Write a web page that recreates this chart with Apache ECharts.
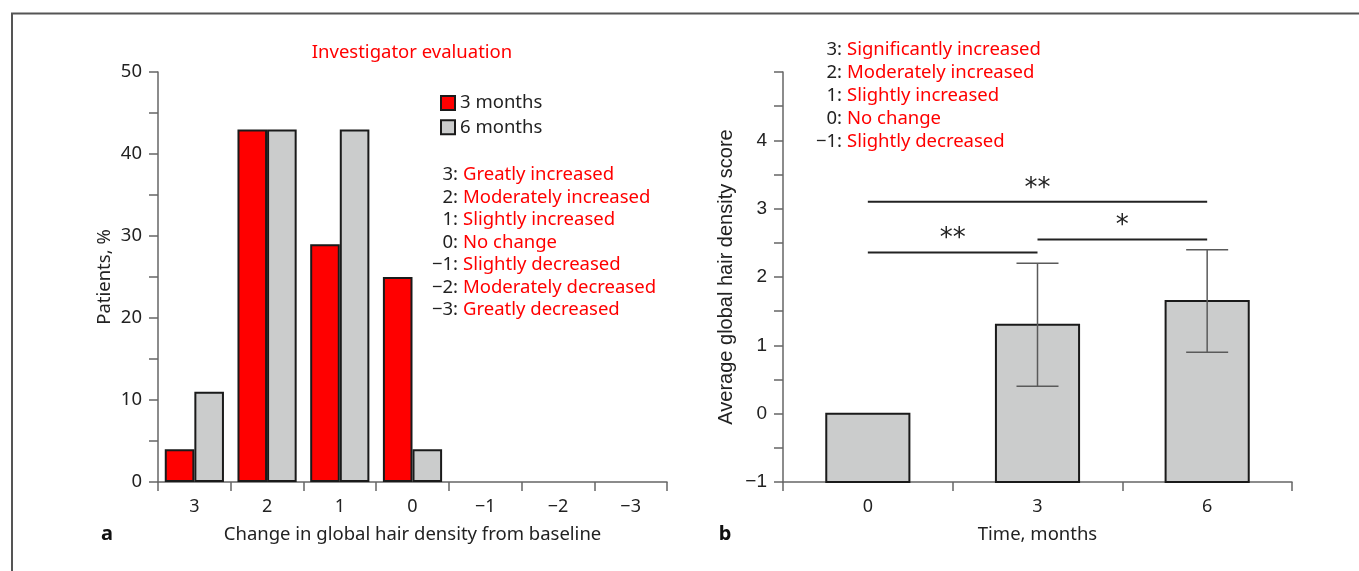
<!DOCTYPE html>
<html>
<head>
<meta charset="utf-8">
<script src="https://cdn.jsdelivr.net/npm/echarts@6/dist/echarts.min.js"></script>
<style>
  html, body { margin: 0; padding: 0; background: #fff; }
  #main { width: 1359px; height: 571px; }
</style>
</head>
<body>
<div id="main"></div>
<script>
// ---- panel a: investigator evaluation ----
var changeCats = ['3', '2', '1', '0', '\u22121', '\u22122', '\u22123'];
var patients3m = [4, 43, 29, 25, null, null, null];
var patients6m = [11, 43, 43, 4, null, null, null];
var scaleACodes = ['3:', '2:', '1:', '0:', '\u22121:', '\u22122:', '\u22123:'];
var scaleALabels = ['Greatly increased', 'Moderately increased', 'Slightly increased', 'No change',
  'Slightly decreased', 'Moderately decreased', 'Greatly decreased'];

// ---- panel b: average global hair density score ----
var months = ['0', '3', '6'];
var scoreMean = [0, 1.3, 1.65];
var scoreSd = [0, 0.9, 0.75];
var sigFrom = [0, 0, 1];
var sigTo = [2, 1, 2];
var sigLevel = [3.1, 2.36, 2.55];
var sigMark = ['**', '**', '*'];
var scaleBCodes = ['3:', '2:', '1:', '0:', '\u22121:'];
var scaleBLabels = ['Significantly increased', 'Moderately increased', 'Slightly increased', 'No change', 'Slightly decreased'];

var RED = '#ff0000', GREY = '#cbcccc', EDGE = '#1a1a1a', AXIS = '#666', TXT = '#222';
var FONT = '"Noto Sans", sans-serif';
var ARIAL = '"Liberation Sans", Arial, sans-serif';
var FS = 18.5;
var scoreMin = -1;

function minus(v) { return String(v).replace('-', '\u2212'); }

function axisBase() {
  return {
    axisLine: { show: true, onZero: false, lineStyle: { color: AXIS, width: 1.5 } },
    axisTick: { show: true, length: 9, lineStyle: { color: AXIS, width: 1.5 } },
    splitLine: { show: false }
  };
}

var graphics = [];
// outer frame
graphics.push({ type: 'rect', shape: { x: 12, y: 13.5, width: 1400, height: 600 },
  style: { fill: 'none', stroke: '#555', lineWidth: 2 }, silent: true });
graphics.push({ type: 'text', x: 412, y: 53, style: { text: 'Investigator evaluation', fill: RED,
  fontSize: FS, fontFamily: FONT, textAlign: 'center', textVerticalAlign: 'middle', align: 'center', verticalAlign: 'middle' } });
graphics.push({ type: 'text', x: 107, y: 534, style: { text: 'a', fill: '#111', fontSize: 20, fontWeight: 'bold',
  fontFamily: FONT, textAlign: 'center', textVerticalAlign: 'middle', align: 'center', verticalAlign: 'middle' } });
graphics.push({ type: 'text', x: 725, y: 534, style: { text: 'b', fill: '#111', fontSize: 20, fontWeight: 'bold',
  fontFamily: FONT, textAlign: 'center', textVerticalAlign: 'middle', align: 'center', verticalAlign: 'middle' } });

function scaleBlock(codes, labels, xSplit, y0, step) {
  codes.forEach(function (c, i) {
    var y = y0 + i * step;
    graphics.push({ type: 'text', x: xSplit, y: y, style: { text: c, fill: TXT, fontSize: FS, fontFamily: FONT,
      textAlign: 'right', textVerticalAlign: 'middle', align: 'right', verticalAlign: 'middle' } });
    graphics.push({ type: 'text', x: xSplit + 5, y: y, style: { text: labels[i], fill: RED, fontSize: FS, fontFamily: FONT,
      textAlign: 'left', textVerticalAlign: 'middle', align: 'left', verticalAlign: 'middle' } });
  });
}
scaleBlock(scaleACodes, scaleALabels, 458, 175, 22.5);
scaleBlock(scaleBCodes, scaleBLabels, 842, 50, 23);

var chart = echarts.init(document.getElementById('main'));

var option = {
  animation: false,
  backgroundColor: '#fff',
  textStyle: { fontFamily: FONT },
  legend: {
    data: ['3 months', '6 months'],
    orient: 'vertical', left: 440, top: 93.5, padding: 0,
    itemWidth: 14, itemHeight: 14, itemGap: 5.3,
    icon: 'rect',
    textStyle: { fontSize: FS, lineHeight: 18, color: TXT, fontFamily: FONT }
  },
  grid: [
    { left: 158, top: 72, width: 509, height: 410 },
    { left: 783, top: 72, width: 509, height: 410 }
  ],
  xAxis: [
    Object.assign(axisBase(), {
      type: 'category', gridIndex: 0, data: changeCats,
      name: 'Change in global hair density from baseline', nameLocation: 'middle', nameGap: 43,
      nameTextStyle: { fontSize: FS, color: TXT, fontFamily: FONT },
      axisLabel: { margin: 16, fontSize: 18, color: TXT, interval: 0 }
    }),
    Object.assign(axisBase(), {
      type: 'category', gridIndex: 1, data: months,
      name: 'Time, months', nameLocation: 'middle', nameGap: 43,
      nameTextStyle: { fontSize: FS, color: TXT, fontFamily: FONT },
      axisLabel: { margin: 16, fontSize: 18, color: TXT, interval: 0 }
    })
  ],
  yAxis: [
    Object.assign(axisBase(), {
      type: 'value', gridIndex: 0, min: 0, max: 50, interval: 10,
      minorTick: { show: true, splitNumber: 2, length: 9, lineStyle: { color: AXIS, width: 1.5 } },
      name: 'Patients, %', nameLocation: 'middle', nameGap: 44,
      nameTextStyle: { fontSize: FS, color: TXT, fontFamily: FONT },
      axisLabel: { margin: 16, fontSize: 18.5, color: TXT }
    }),
    Object.assign(axisBase(), {
      type: 'value', gridIndex: 1, min: scoreMin, max: 5, interval: 1,
      minorTick: { show: true, splitNumber: 2, length: 9, lineStyle: { color: AXIS, width: 1.5 } },
      name: 'Average global hair density score', nameLocation: 'middle', nameGap: 47,
      nameTextStyle: { fontSize: 20, color: TXT, fontFamily: ARIAL },
      axisLabel: { margin: 16, fontSize: 19, color: TXT, fontFamily: ARIAL,
        formatter: function (v) { return v === 5 ? '' : minus(v); } }
    })
  ],
  graphic: graphics,
  series: [
    {
      name: '3 months', type: 'bar', xAxisIndex: 0, yAxisIndex: 0, data: patients3m,
      barGap: '0%', barCategoryGap: '18.6%',
      itemStyle: { color: RED, borderColor: EDGE, borderWidth: 2 }
    },
    {
      name: '6 months', type: 'bar', xAxisIndex: 0, yAxisIndex: 0, data: patients6m,
      barGap: '0%', barCategoryGap: '18.6%',
      itemStyle: { color: GREY, borderColor: EDGE, borderWidth: 2 }
    },
    {
      // bars of panel b start at the axis minimum (-1)
      type: 'custom', xAxisIndex: 1, yAxisIndex: 1,
      data: scoreMean.map(function (v, i) { return [i, v]; }),
      renderItem: function (params, api) {
        var top = api.coord([api.value(0), api.value(1)]);
        var base = api.coord([api.value(0), scoreMin]);
        var w = api.size([1, 0])[0] * 0.49;
        return { type: 'rect', shape: { x: top[0] - w / 2, y: top[1], width: w, height: base[1] - top[1] },
          style: { fill: GREY, stroke: EDGE, lineWidth: 2 } };
      }
    },
    {
      type: 'custom', xAxisIndex: 1, yAxisIndex: 1, z: 5,
      data: scoreMean.map(function (v, i) { return [i, v - scoreSd[i], v + scoreSd[i]]; }),
      renderItem: function (params, api) {
        if (api.value(2) === api.value(1)) return null;
        var lo = api.coord([api.value(0), api.value(1)]);
        var hi = api.coord([api.value(0), api.value(2)]);
        var cap = 21;
        var st = { stroke: '#5a5a5a', lineWidth: 1.5 };
        return { type: 'group', children: [
          { type: 'line', shape: { x1: lo[0], y1: lo[1], x2: hi[0], y2: hi[1] }, style: st },
          { type: 'line', shape: { x1: lo[0] - cap, y1: lo[1], x2: lo[0] + cap, y2: lo[1] }, style: st },
          { type: 'line', shape: { x1: hi[0] - cap, y1: hi[1], x2: hi[0] + cap, y2: hi[1] }, style: st }
        ] };
      }
    },
    {
      type: 'custom', xAxisIndex: 1, yAxisIndex: 1, z: 5,
      data: sigLevel.map(function (lv, i) { return [sigFrom[i], sigTo[i], lv, i]; }),
      renderItem: function (params, api) {
        var a = api.coord([api.value(0), api.value(2)]);
        var b = api.coord([api.value(1), api.value(2)]);
        return { type: 'group', children: [
          { type: 'line', shape: { x1: a[0], y1: a[1], x2: b[0], y2: b[1] }, style: { stroke: TXT, lineWidth: 2 } },
          { type: 'text', x: (a[0] + b[0]) / 2, y: a[1] - 13,
            style: { text: sigMark[api.value(3)], fill: TXT, fontSize: 26, fontFamily: '"DejaVu Sans", sans-serif',
              textAlign: 'center', textVerticalAlign: 'middle', align: 'center', verticalAlign: 'middle' } }
        ] };
      }
    }
  ]
};

chart.setOption(option);
</script>
</body>
</html>
